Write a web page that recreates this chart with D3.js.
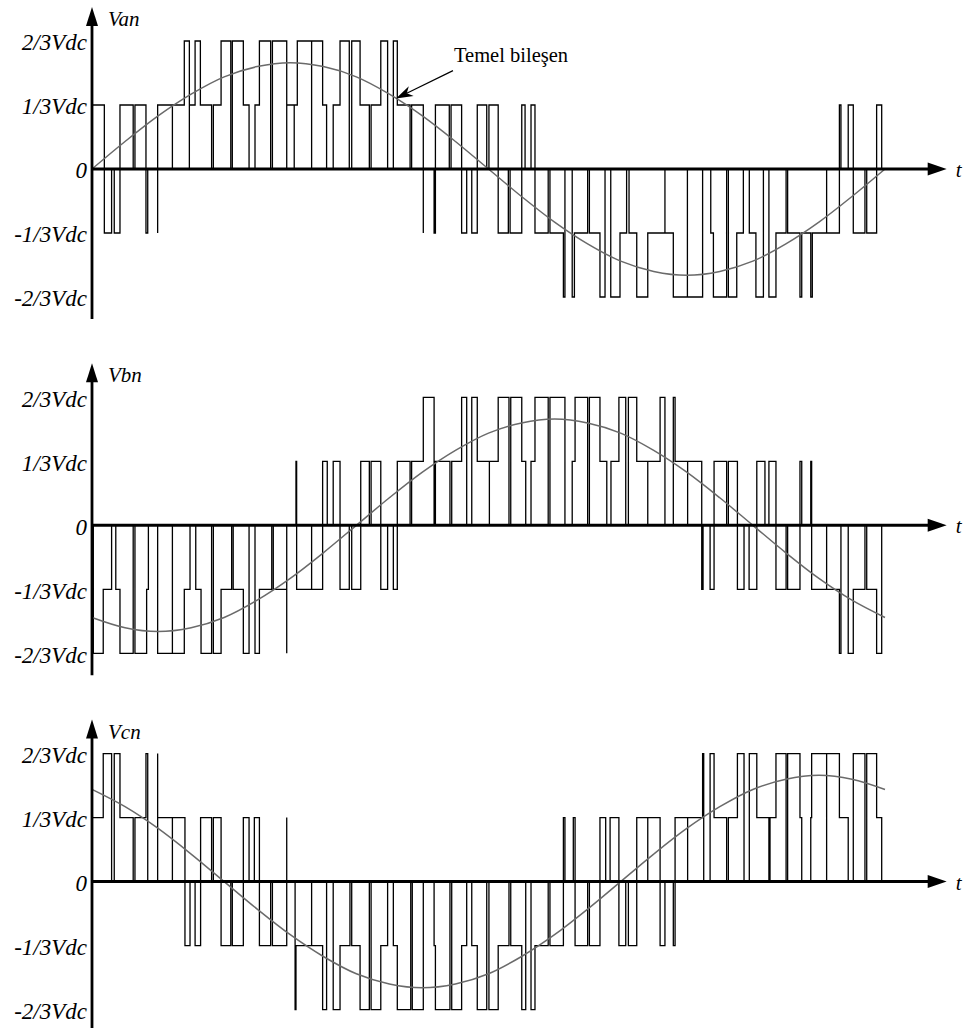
<!DOCTYPE html>
<html>
<head>
<meta charset="utf-8">
<script src="https://cdn.jsdelivr.net/npm/d3@7"></script>
<style>
body { margin: 0; background: #fff; }
text { font-family: 'Liberation Serif', 'Times New Roman', serif; }
</style>
</head>
<body>
<svg id="chart" width="964" height="1028"></svg>
<script>
// voltage levels are in units of Vdc/3, time in electrical degrees
var levelTicks = [-2, -1, 0, 1, 2]
var levelLabels = ['-2/3Vdc', '-1/3Vdc', '0', '1/3Vdc', '2/3Vdc']
var phaseNames = ['Van', 'Vbn', 'Vcn']

// fundamental component every 15 degrees
var sineAngles = [0, 15, 30, 45, 60, 75, 90, 105, 120, 135, 150, 165, 180, 195, 210, 225, 240, 255, 270, 285, 300, 315, 330, 345, 360]
var fundamentalA = [0, .43, .83, 1.17, 1.44, 1.60, 1.66, 1.60, 1.44, 1.17, .83, .43, 0, -.43, -.83, -1.17, -1.44, -1.60, -1.66, -1.60, -1.44, -1.17, -.83, -.43, 0]
var fundamentalB = [-1.44, -1.60, -1.66, -1.60, -1.44, -1.17, -.83, -.43, 0, .43, .83, 1.17, 1.44, 1.60, 1.66, 1.60, 1.44, 1.17, .83, .43, 0, -.43, -.83, -1.17, -1.44]
var fundamentalC = [1.44, 1.17, .83, .43, 0, -.43, -.83, -1.17, -1.44, -1.60, -1.66, -1.60, -1.44, -1.17, -.83, -.43, 0, .43, .83, 1.17, 1.44, 1.60, 1.66, 1.60, 1.44]

// switching waveforms: [angle, level from that angle on]
var pwmA = [[0,0],[0.1,1],[5.6,-1],[8.9,0],[10.1,-1],[12.7,1],[18.7,0],[19.5,1],[24.5,-1],[25.3,0],[29.8,-1],[29.8,1],[36.5,0],[36.5,1],[41.9,2],[44.2,0],[44.2,1],[46.8,2],[49.2,1],[54.3,0],[55.1,1],[58.6,2],[63.0,0],[63.7,2],[68.7,1],[71.3,0],[74.0,1],[76.0,2],[81.1,0],[81.9,2],[88.4,0],[88.4,1],[91.8,0],[91.8,1],[93.2,2],[99.7,0],[99.7,2],[104.7,1],[106.5,0],[109.5,1],[112.6,2],[116.8,0],[117.9,2],[121.7,1],[125.9,0],[126.7,1],[131.1,2],[134.2,0],[136.8,2],[138.6,1],[144.4,0],[145.1,1],[150.4,-1],[150.4,0],[155.3,-1],[155.9,1],[162.2,0],[163.0,1],[167.8,-1],[170.1,0],[172.4,-1],[174.9,1],[179.2,0],[180.2,1],[184.4,-1],[189.0,0],[189.8,-1],[195.1,1],[196.6,0],[199.3,1],[201.1,-1],[207.1,0],[207.9,-1],[214.0,-2],[214.7,0],[218.0,-2],[219.0,-1],[225.0,0],[225.8,-1],[230.6,-2],[232.9,0],[235.5,-2],[239.7,-1],[242.7,0],[243.8,-1],[247.3,-2],[252.3,-1],[260.1,0],[260.1,-1],[263.9,-2],[270.3,0],[270.3,-2],[277.2,0],[280.9,-1],[282.1,-2],[288.1,0],[288.9,-2],[292.7,-1],[295.7,0],[298.4,-1],[301.4,-2],[304.8,0],[307.3,-2],[310.5,-1],[315.1,0],[315.8,-1],[321.4,-2],[322.2,-1],[326.3,-2],[327.0,-1],[333.5,0],[333.5,-1],[339.3,1],[340.0,0],[343.3,1],[345.6,-1],[350.9,0],[351.7,-1],[356.2,1],[358.5,0],[360,0]]

var pwmB = [[0,0],[0.6,-2],[5.1,-1],[8.9,0],[10.8,-1],[12.7,-2],[18.7,0],[19.5,-2],[24.8,-1],[25.6,0],[29.8,-2],[36.5,0],[36.5,-2],[41.9,-1],[44.5,0],[47.1,-1],[49.5,-2],[54.3,0],[55.1,-2],[58.6,-1],[63.4,0],[64.1,-1],[68.7,-2],[71.3,0],[74.0,-2],[76.0,-1],[81.6,0],[82.3,-1],[88.4,-2],[88.4,0],[92.6,1],[92.9,-1],[99.7,0],[99.7,-1],[104.7,1],[106.8,0],[109.5,1],[112.6,-1],[116.8,0],[117.9,-1],[122.0,1],[125.9,0],[126.7,1],[131.1,-1],[134.2,0],[136.8,-1],[138.6,1],[144.4,0],[145.1,1],[150.4,2],[155.3,0],[155.9,1],[162.5,0],[163.3,1],[167.8,2],[170.1,0],[172.4,2],[174.9,1],[180.4,0],[180.4,1],[184.4,2],[189.3,0],[190.1,2],[195.1,1],[196.9,0],[199.3,1],[201.1,2],[207.1,0],[207.9,2],[214.7,0],[218.0,1],[219.3,2],[225.0,0],[225.8,2],[230.6,1],[233.7,0],[235.6,1],[239.2,2],[242.3,0],[243.5,2],[247.3,1],[252.3,0],[252.3,1],[257.9,2],[260.1,0],[263.9,2],[264.7,1],[270.4,0],[270.4,1],[276.8,-1],[277.4,0],[280.6,-1],[282.4,1],[288.1,0],[288.9,1],[293.0,-1],[296.0,0],[298.3,-1],[301.8,1],[305.5,0],[307.3,1],[310.5,-1],[315.1,0],[315.8,-1],[321.4,1],[322.2,0],[326.3,1],[326.7,-1],[333.5,0],[333.5,-1],[339.3,-2],[340.0,0],[343.3,-2],[345.6,-1],[350.9,0],[351.7,-1],[356.2,-2],[358.5,0],[360,0]]

var pwmC = [[0,0],[0.1,1],[5.1,2],[8.9,0],[10.1,2],[12.7,1],[18.7,0],[19.5,1],[24.5,2],[25.3,0],[29.8,2],[29.8,1],[36.5,0],[36.5,1],[42.2,-1],[44.5,0],[46.8,-1],[49.3,1],[54.3,0],[55.1,1],[58.6,-1],[63.0,0],[63.7,-1],[68.7,1],[71.3,0],[73.7,1],[76.0,-1],[81.1,0],[81.9,-1],[88.4,1],[88.4,0],[92.2,-2],[92.6,-1],[99.7,0],[99.7,-1],[104.7,-2],[106.5,0],[109.5,-2],[112.6,-1],[117.1,0],[117.9,-1],[121.7,-2],[125.9,0],[126.7,-2],[131.1,-1],[134.2,0],[136.8,-1],[138.6,-2],[144.7,0],[145.4,-2],[150.4,0],[155.3,-1],[155.9,-2],[162.5,0],[163.3,-2],[167.8,-1],[170.1,0],[172.4,-1],[174.9,-2],[179.2,0],[180.2,-2],[184.4,-1],[189.3,0],[190.1,-1],[195.1,-2],[196.9,0],[199.3,-2],[201.1,-1],[207.1,0],[207.9,-1],[214.0,1],[214.7,0],[218.5,1],[219.3,-1],[225.0,0],[225.8,-1],[230.6,1],[233.2,0],[235.2,1],[239.2,-1],[242.3,0],[243.5,-1],[247.3,1],[252.3,0],[252.3,1],[257.9,-1],[260.1,0],[263.9,-1],[264.7,1],[270.4,0],[270.4,1],[277.2,2],[277.7,0],[280.6,2],[282.4,1],[288.1,0],[288.9,1],[293.0,2],[296.0,0],[298.4,2],[301.8,1],[307.3,0],[307.8,1],[310.5,2],[315.1,0],[315.8,2],[321.4,1],[322.2,0],[326.3,1],[326.7,2],[333.5,0],[333.5,2],[339.3,1],[343.3,0],[345.6,2],[350.9,0],[351.7,2],[356.2,1],[358.5,0],[360,0]]

var annotationText = 'Temel bileşen'
var annotationPoint = [138, 1.1]

var svg = d3.select('#chart')

var x = d3.scaleLinear().domain([0, 360]).range([92, 885])
var tEnd = 388

var panels = [
    { name: phaseNames[0], pwm: pwmA, fund: fundamentalA },
    { name: phaseNames[1], pwm: pwmB, fund: fundamentalB },
    { name: phaseNames[2], pwm: pwmC, fund: fundamentalC }
]

panels.forEach(function(p, i) {
    var zero = 169 + i * 356.3
    var y = d3.scaleLinear().domain([-2, 2]).range([zero + 128, zero - 128])
    var g = svg.append('g')

    // level labels, no tick marks
    var yAxis = d3.axisLeft(y)
        .tickValues(levelTicks)
        .tickSize(0)
        .tickPadding(5)
        .tickFormat(function(d, k) { return levelLabels[k] })

    g.append('g')
        .attr('transform', 'translate(' + x(0) + ',0)')
        .call(yAxis)
        .attr('font-family', 'Liberation Serif')
        .attr('font-size', 23)
        .style('font-style', 'italic')
        .call(function(a) { a.select('.domain').remove() })
        .selectAll('text')
        .attr('fill', '#000')
        .attr('dy', '0.38em')

    // switching waveform
    var stepLine = d3.line()
        .x(function(d) { return x(d[0]) })
        .y(function(d) { return y(d[1]) })
        .curve(d3.curveStepAfter)

    g.append('path')
        .datum(p.pwm)
        .attr('d', stepLine)
        .attr('fill', 'none')
        .attr('stroke', '#000')
        .attr('stroke-width', 1.3)

    // fundamental
    var sineLine = d3.line()
        .x(function(d, k) { return x(sineAngles[k]) })
        .y(function(d) { return y(d) })
        .curve(d3.curveCatmullRom)

    g.append('path')
        .datum(p.fund)
        .attr('d', sineLine)
        .attr('fill', 'none')
        .attr('stroke', '#6a6a6a')
        .attr('stroke-width', 1.5)

    // axes with arrow heads
    var ax = x(0)
    g.append('line')
        .attr('x1', ax).attr('x2', ax)
        .attr('y1', zero + 150).attr('y2', zero - 148)
        .attr('stroke', '#000').attr('stroke-width', 2.8)
    g.append('path')
        .attr('d', 'M' + ax + ',' + (zero - 162) + 'L' + (ax - 6) + ',' + (zero - 143) + 'L' + (ax + 6) + ',' + (zero - 143) + 'Z')
        .attr('fill', '#000')

    var tx = x(tEnd)
    g.append('line')
        .attr('x1', ax).attr('x2', tx - 14)
        .attr('y1', zero).attr('y2', zero)
        .attr('stroke', '#000').attr('stroke-width', 3)
    g.append('path')
        .attr('d', 'M' + tx + ',' + zero + 'L' + (tx - 19) + ',' + (zero - 6.5) + 'L' + (tx - 19) + ',' + (zero + 6.5) + 'Z')
        .attr('fill', '#000')

    g.append('text')
        .attr('x', tx + 9)
        .attr('y', zero + 8)
        .attr('font-size', 21)
        .style('font-style', 'italic')
        .text('t')

    g.append('text')
        .attr('x', ax + 16)
        .attr('y', zero - 143)
        .attr('font-size', 21)
        .style('font-style', 'italic')
        .text(p.name)

    if (i === 0) {
        var px = x(annotationPoint[0])
        var py = y(annotationPoint[1])
        var dx = 57, dy = -28
        var len = Math.sqrt(dx * dx + dy * dy)
        var ux = dx / len, uy = dy / len
        g.append('line')
            .attr('x1', px + ux * 12).attr('y1', py + uy * 12)
            .attr('x2', px + dx).attr('y2', py + dy)
            .attr('stroke', '#000').attr('stroke-width', 1.2)
        g.append('path')
            .attr('d', 'M' + px + ',' + py +
                'L' + (px + ux * 17 - uy * 5.5) + ',' + (py + uy * 17 + ux * 5.5) +
                'L' + (px + ux * 12) + ',' + (py + uy * 12) +
                'L' + (px + ux * 17 + uy * 5.5) + ',' + (py + uy * 17 - ux * 5.5) + 'Z')
            .attr('fill', '#000')
        g.append('text')
            .attr('x', px + dx + 1)
            .attr('y', py + dy - 9)
            .attr('font-size', 20.5)
            .text(annotationText)
    }
})
</script>
</body>
</html>
